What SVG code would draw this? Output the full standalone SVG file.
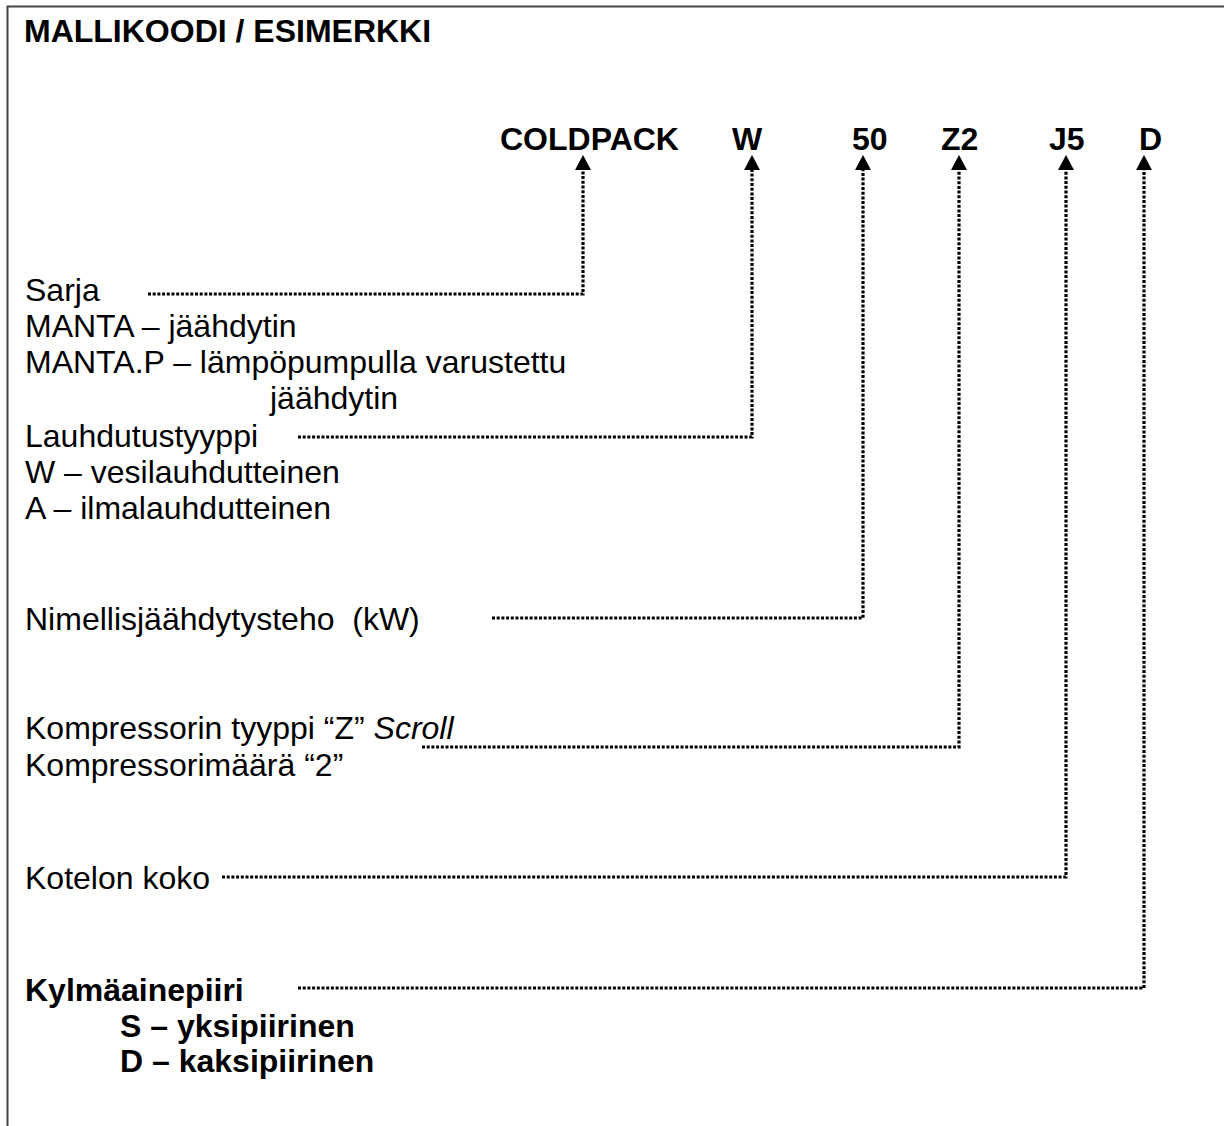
<svg xmlns="http://www.w3.org/2000/svg" width="1224" height="1126" viewBox="0 0 1224 1126">
<style>
text{font-family:"Liberation Sans",Arial,sans-serif;font-size:32px;fill:#000;white-space:pre}
.b{font-weight:bold}
.dot{fill:none;stroke:#000;stroke-width:3.2;stroke-dasharray:3 1.7}
.frame{fill:none;stroke:#444;stroke-width:2}
</style>
<defs>
<marker id="ah" viewBox="0 0 15 16" refX="0" refY="8" markerWidth="15" markerHeight="16" markerUnits="userSpaceOnUse" orient="auto">
<path d="M0 0L15 8L0 16Z" fill="#000"/>
</marker>
</defs>
<rect width="1224" height="1126" fill="#fff"/>
<path class="frame" d="M7.5 1126V6.5H1224"/>
<g id="title"><text class="b" x="24" y="42">MALLIKOODI / ESIMERKKI</text></g>
<g id="code">
<text class="b" x="500" y="150">COLDPACK</text>
<text class="b" x="732" y="150">W</text>
<text class="b" x="852" y="150">50</text>
<text class="b" x="941" y="150">Z2</text>
<text class="b" x="1049" y="150">J5</text>
<text class="b" x="1139" y="150">D</text>
</g>
<g id="sarja">
<text x="25" y="301">Sarja</text>
<text x="25" y="337">MANTA – jäähdytin</text>
<text x="25" y="373">MANTA.P – lämpöpumpulla varustettu</text>
<text x="270" y="409">jäähdytin</text>
</g>
<g id="lauhdutus">
<text x="25" y="447">Lauhdutustyyppi</text>
<text x="25" y="483">W – vesilauhdutteinen</text>
<text x="25" y="519">A – ilmalauhdutteinen</text>
</g>
<g id="teho"><text x="25" y="630">Nimellisjäähdytysteho  (kW)</text></g>
<g id="kompressori">
<text x="25" y="739">Kompressorin tyyppi “Z” <tspan font-style="italic">Scroll</tspan></text>
<text x="25" y="776">Kompressorimäärä “2”</text>
</g>
<g id="kotelo"><text x="25" y="889">Kotelon koko</text></g>
<g id="piiri">
<text class="b" x="25" y="1001">Kylmäainepiiri</text>
<text class="b" x="120" y="1037">S – yksipiirinen</text>
<text class="b" x="120" y="1072">D – kaksipiirinen</text>
</g>
<g id="connectors">
<path class="dot" d="M148 294H583V170" marker-end="url(#ah)"/>
<path class="dot" d="M298 437H752V170" marker-end="url(#ah)"/>
<path class="dot" d="M492 618H863V170" marker-end="url(#ah)"/>
<path class="dot" d="M422 747H959V170" marker-end="url(#ah)"/>
<path class="dot" d="M222 877H1066V170" marker-end="url(#ah)"/>
<path class="dot" d="M298 988H1144V170" marker-end="url(#ah)"/>
</g>
</svg>
